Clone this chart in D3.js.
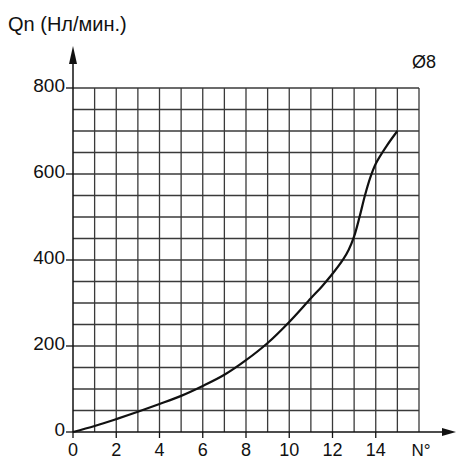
<!DOCTYPE html>
<html>
<head>
<meta charset="utf-8">
<script src="https://cdn.jsdelivr.net/npm/d3@7"></script>
<style>
  body { margin: 0; background: #fff; }
  text { font-family: "Liberation Sans", Arial, sans-serif; fill: #111; }
</style>
</head>
<body>
<div id="chart"></div>
<script>
// flow curve
const turns = [0, 1, 2, 3, 4, 5, 6, 7, 8, 9, 10, 11, 11.5, 12, 12.5, 12.75, 13, 13.25, 13.5, 13.75, 14, 14.5, 15];
const flow  = [0, 14, 30, 47, 65, 84, 107, 133, 167, 207, 256, 311, 338, 368, 402, 424, 455, 500, 550, 592, 624, 665, 700];

const xTicks = [0, 2, 4, 6, 8, 10, 12, 14];
const yTicks = [0, 200, 400, 600, 800];
const yTitle = "Qn (Нл/мин.)";
const xTitle = "N°";
const sizeLabel = "Ø8";

const width = 456, height = 461;
const svg = d3.select("#chart").append("svg")
    .attr("width", width)
    .attr("height", height);

// scales
const x = d3.scaleLinear().domain([0, 16]).range([73, 419]);
const y = d3.scaleLinear().domain([0, 800]).range([432, 88]);

// grid
const grid = svg.append("g");
grid.selectAll(".vx")
  .data(d3.range(1, 17))
  .join("line")
    .attr("x1", d => x(d)).attr("x2", d => x(d))
    .attr("y1", y(0)).attr("y2", y(800))
    .attr("stroke", "#3a3a3a").attr("stroke-width", 1.3);
grid.selectAll(".hy")
  .data(d3.range(50, 801, 50))
  .join("line")
    .attr("x1", x(0)).attr("x2", x(16))
    .attr("y1", d => y(d)).attr("y2", d => y(d))
    .attr("stroke", "#3a3a3a").attr("stroke-width", 1.3);

// axes
svg.append("line")
    .attr("x1", x(0)).attr("x2", 444)
    .attr("y1", y(0)).attr("y2", y(0))
    .attr("stroke", "#111").attr("stroke-width", 1.5);
svg.append("path")
    .attr("d", `M456,${y(0)} L442,${y(0) - 4} L442,${y(0) + 4} Z`)
    .attr("fill", "#111");
svg.append("line")
    .attr("x1", x(0)).attr("x2", x(0))
    .attr("y1", y(0)).attr("y2", 60)
    .attr("stroke", "#111").attr("stroke-width", 1.5);
svg.append("path")
    .attr("d", `M${x(0)},46 L${x(0) - 4},64 L${x(0) + 4},64 Z`)
    .attr("fill", "#111");

// ticks
svg.selectAll(".ytick")
  .data(yTicks)
  .join("line")
    .attr("x1", x(0) - 7).attr("x2", x(0))
    .attr("y1", d => y(d)).attr("y2", d => y(d))
    .attr("stroke", "#111").attr("stroke-width", 1.3);
svg.selectAll(".ylab")
  .data(yTicks)
  .join("text")
    .attr("x", x(0) - 8)
    .attr("y", d => y(d) + 4)
    .attr("text-anchor", "end")
    .attr("font-size", 19)
    .text(d => d);

svg.selectAll(".xtick")
  .data(xTicks)
  .join("line")
    .attr("x1", d => x(d)).attr("x2", d => x(d))
    .attr("y1", y(0)).attr("y2", y(0) + 6)
    .attr("stroke", "#111").attr("stroke-width", 1.3);
svg.selectAll(".xlab")
  .data(xTicks)
  .join("text")
    .attr("x", d => x(d))
    .attr("y", 456)
    .attr("text-anchor", "middle")
    .attr("font-size", 18)
    .text(d => d);

svg.append("text")
    .attr("x", x(16) + 2).attr("y", 456)
    .attr("text-anchor", "middle")
    .attr("font-size", 17)
    .text(xTitle);
svg.append("text")
    .attr("x", 8).attr("y", 31)
    .attr("font-size", 20)
    .text(yTitle);
svg.append("text")
    .attr("x", 412).attr("y", 68)
    .attr("font-size", 18)
    .text(sizeLabel);

// curve
const pts = turns.map((t, i) => [t, flow[i]]);
svg.append("path")
    .datum(pts)
    .attr("fill", "none")
    .attr("stroke", "#111")
    .attr("stroke-width", 2.2)
    .attr("d", d3.line()
      .x(d => x(d[0]))
      .y(d => y(d[1]))
      .curve(d3.curveCatmullRom.alpha(0.5)));
</script>
</body>
</html>
